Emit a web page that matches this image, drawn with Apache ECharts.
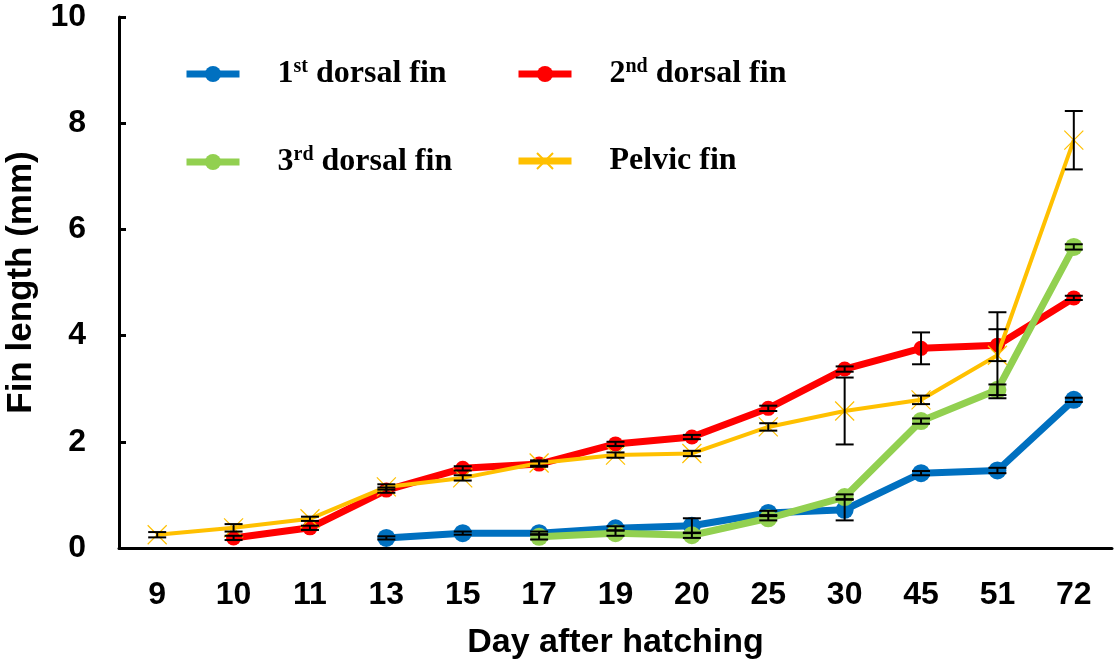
<!DOCTYPE html>
<html>
<head>
<meta charset="utf-8">
<script src="https://cdn.jsdelivr.net/npm/echarts@6/dist/echarts.min.js"></script>
<style>html,body{margin:0;padding:0;background:#fff}#c{width:1117px;height:666px}</style>
</head>
<body>
<div id="c"></div>
<script>
const days = ['9','10','11','13','15','17','19','20','25','30','45','51','72'];
const dorsal1 = [null, null, null, 0.19, 0.28, 0.28, 0.37, 0.42, 0.66, 0.72, 1.41, 1.46, 2.79];
const dorsal2 = [null, 0.19, 0.38, 1.09, 1.50, 1.58, 1.96, 2.09, 2.63, 3.37, 3.76, 3.82, 4.71];
const dorsal3 = [null, null, null, null, null, 0.21, 0.28, 0.24, 0.56, 0.96, 2.39, 2.98, 5.67];
const pelvic  = [0.25, 0.38, 0.55, 1.15, 1.32, 1.60, 1.75, 1.78, 2.28, 2.58, 2.79, 3.63, 7.68];
const err1 = [null, null, null, 0.03, 0.03, 0.03, 0.04, 0.14, 0.04, 0.2, 0.04, 0.05, 0.04];
const err2 = [null, 0.04, 0.04, 0.05, 0.04, 0.05, 0.04, 0.04, 0.05, 0.05, 0.3, 0.3, 0.04];
const err3 = [null, null, null, null, null, 0.05, 0.05, 0.05, 0.04, 0.05, 0.05, 0.1, 0.05];
const errP = [0.05, 0.07, 0.04, 0.05, 0.05, 0.05, 0.05, 0.05, 0.07, 0.63, 0.08, 0.81, 0.55];
const names = ['1st dorsal fin', '2nd dorsal fin', '3rd dorsal fin', 'Pelvic fin'];
const colors = ['#0070C0', '#FF0000', '#92D050', '#FFC000'];

function errData(vals, errs) {
  const out = [];
  vals.forEach((v, i) => { if (v != null && errs[i] != null) out.push([i, v - errs[i], v + errs[i]]); });
  return out;
}
const errorItems = [].concat(errData(dorsal1, err1), errData(dorsal2, err2), errData(dorsal3, err3), errData(pelvic, errP));

const chart = echarts.init(document.getElementById('c'));
const serif = 'Liberation Serif';
const legendText = {
  fontFamily: serif, fontWeight: 'bold', fontSize: 32, color: '#000',
  rich: {
    g: { width: 33 },
    n: { fontFamily: serif, fontWeight: 'bold', fontSize: 32, color: '#000' },
    s: { fontFamily: serif, fontWeight: 'bold', fontSize: 20, color: '#000', padding: [0, 0, 14, 0] }
  }
};
function legendFmt(name) {
  const m = name.match(/^(\d)(st|nd|rd)(.*)$/);
  if (m) return '{g|}{n|' + m[1] + '}{s|' + m[2] + '}{n|' + m[3] + '}';
  return '{g|}{n|' + name + '}';
}
function legItem(k) {
  return { name: names[k], lineStyle: { width: 7, color: colors[k] } };
}
const lineSeries = [dorsal1, dorsal2, dorsal3].map((d, k) => ({
  name: names[k], type: 'line', data: d, symbol: 'circle',
  symbolSize: k === 1 ? 15 : 18,
  lineStyle: { width: 7, color: colors[k] },
  itemStyle: { color: colors[k] },
  z: 3 + k
}));
lineSeries.push({
  name: names[3], type: 'line', data: pelvic,
  symbol: 'path://M0,0L10,10M10,0L0,10', symbolSize: 19,
  lineStyle: { width: 4, color: colors[3] },
  itemStyle: { color: colors[3], borderColor: colors[3], borderWidth: 1.2 },
  z: 6
});

chart.setOption({
  animation: false,
  grid: { left: 119, right: 5, top: 17, bottom: 118, outerBoundsMode: 'none', containLabel: false },
  legend: [
    { data: [legItem(0), legItem(2)], orient: 'vertical', left: 183, top: 57, itemGap: 55, padding: 0,
      itemWidth: 53, itemHeight: 20, formatter: legendFmt, textStyle: legendText },
    { data: [legItem(1), legItem(3)], orient: 'vertical', left: 515, top: 57, itemGap: 55, padding: 0,
      itemWidth: 53, itemHeight: 20, formatter: legendFmt, textStyle: legendText }
  ],
  xAxis: {
    type: 'category', data: days, boundaryGap: true,
    name: 'Day after hatching', nameLocation: 'middle', nameGap: 78,
    nameTextStyle: { fontFamily: 'Liberation Sans', fontWeight: 'bold', fontSize: 34, color: '#000' },
    axisLine: { lineStyle: { color: '#000', width: 3 } },
    axisTick: { alignWithLabel: true, inside: true, length: 7, lineStyle: { color: '#000', width: 3 } },
    axisLabel: { margin: 31, fontFamily: 'Liberation Sans', fontWeight: 'bold', fontSize: 32, color: '#000' },
    splitLine: { show: false }
  },
  yAxis: {
    type: 'value', min: 0, max: 10, interval: 2,
    name: 'Fin length (mm)', nameLocation: 'middle', nameGap: 80,
    nameTextStyle: { fontFamily: 'Liberation Sans', fontWeight: 'bold', fontSize: 35, color: '#000' },
    axisLine: { show: true, lineStyle: { color: '#000', width: 3 } },
    axisTick: { show: true, inside: true, length: 7, lineStyle: { color: '#000', width: 3 } },
    axisLabel: { margin: 33, fontFamily: 'Liberation Sans', fontWeight: 'bold', fontSize: 32, color: '#000' },
    splitLine: { show: false }
  },
  series: lineSeries.concat([{
    type: 'custom', name: 'err', data: errorItems, z: 10, silent: true,
    encode: { x: 0, y: [1, 2] },
    renderItem: function (params, api) {
      const lo = api.coord([api.value(0), api.value(1)]);
      const hi = api.coord([api.value(0), api.value(2)]);
      const w = 9;
      const st = { stroke: '#000', lineWidth: 2 };
      return { type: 'group', children: [
        { type: 'line', shape: { x1: lo[0], y1: lo[1], x2: hi[0], y2: hi[1] }, style: st },
        { type: 'line', shape: { x1: lo[0] - w, y1: lo[1], x2: lo[0] + w, y2: lo[1] }, style: st },
        { type: 'line', shape: { x1: hi[0] - w, y1: hi[1], x2: hi[0] + w, y2: hi[1] }, style: st }
      ]};
    }
  }])
});
</script>
</body>
</html>
